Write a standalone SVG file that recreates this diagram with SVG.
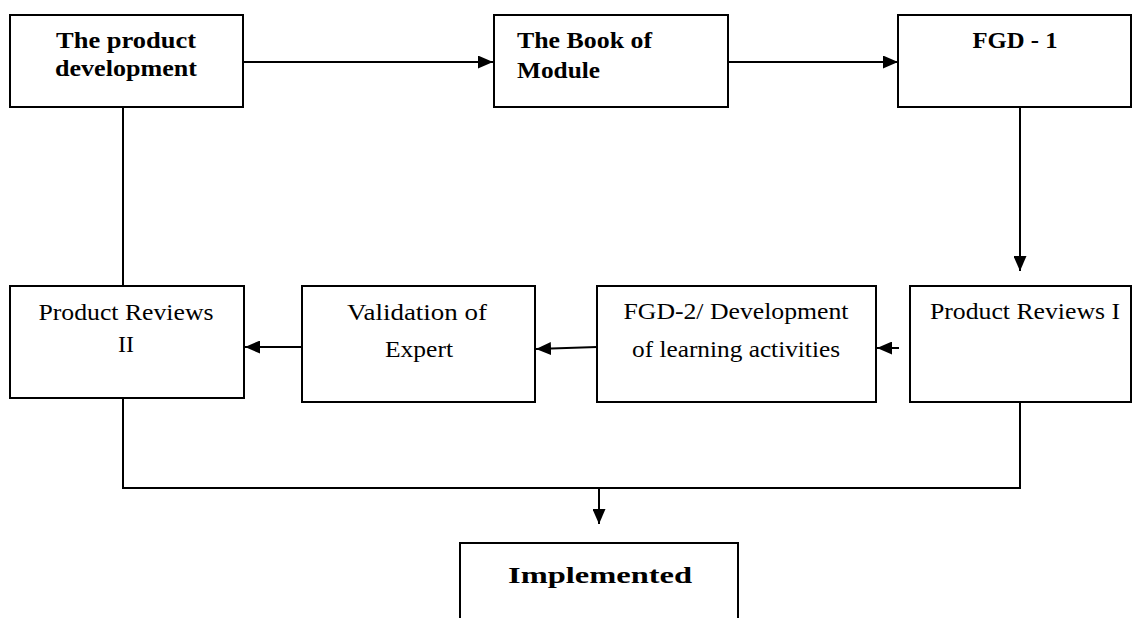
<svg xmlns="http://www.w3.org/2000/svg" width="1132" height="618" viewBox="0 0 1132 618">
<style>
.box{fill:#fff;stroke:#000;stroke-width:2}
.ln{fill:none;stroke:#000;stroke-width:2}
.b{font-family:"Liberation Serif",serif;font-weight:bold;font-size:23px;fill:#000}
.r{font-family:"Liberation Serif",serif;font-size:23px;fill:#000}
</style>
<defs>
<marker id="ah" markerUnits="userSpaceOnUse" markerWidth="15" markerHeight="13" refX="15" refY="6.5" orient="auto">
<path d="M0,0 L15,6.5 L0,13 Z" fill="#000"/>
</marker>
</defs>
<rect width="1132" height="618" fill="#fff"/>
<g id="connectors">
<line class="ln" x1="243" y1="62" x2="493" y2="62" marker-end="url(#ah)"/>
<line class="ln" x1="728" y1="62" x2="898" y2="62" marker-end="url(#ah)"/>
<line class="ln" x1="1020" y1="107" x2="1020" y2="271" marker-end="url(#ah)"/>
<line class="ln" x1="899" y1="348" x2="877" y2="348" marker-end="url(#ah)"/>
<line class="ln" x1="597" y1="347" x2="536" y2="349" marker-end="url(#ah)"/>
<line class="ln" x1="302" y1="347" x2="245" y2="347" marker-end="url(#ah)"/>
<line class="ln" x1="123" y1="107" x2="123" y2="286"/>
<polyline class="ln" points="123,398 123,488 1020,488 1020,402"/>
<line class="ln" x1="599" y1="488" x2="599" y2="524" marker-end="url(#ah)"/>
</g>
<g id="n1">
<rect class="box" x="10" y="15" width="233" height="92"/>
<text class="b" x="126" y="48" text-anchor="middle" textLength="140" lengthAdjust="spacingAndGlyphs">The product</text>
<text class="b" x="126" y="76" text-anchor="middle" textLength="142" lengthAdjust="spacingAndGlyphs">development</text>
</g>
<g id="n2">
<rect class="box" x="494" y="15" width="234" height="92"/>
<text class="b" x="517" y="48" textLength="135" lengthAdjust="spacingAndGlyphs">The Book of</text>
<text class="b" x="517" y="78" textLength="83" lengthAdjust="spacingAndGlyphs">Module</text>
</g>
<g id="n3">
<rect class="box" x="898" y="15" width="233" height="92"/>
<text class="b" x="1015" y="48" text-anchor="middle" textLength="85" lengthAdjust="spacingAndGlyphs">FGD - 1</text>
</g>
<g id="n4">
<rect class="box" x="10" y="286" width="234" height="112"/>
<text class="r" x="126" y="320" text-anchor="middle" textLength="175" lengthAdjust="spacingAndGlyphs">Product Reviews</text>
<text class="r" x="126" y="352" text-anchor="middle" textLength="16" lengthAdjust="spacingAndGlyphs">II</text>
</g>
<g id="n5">
<rect class="box" x="302" y="286" width="233" height="116"/>
<text class="r" x="417" y="320" text-anchor="middle" textLength="140" lengthAdjust="spacingAndGlyphs">Validation of</text>
<text class="r" x="419" y="357" text-anchor="middle" textLength="68" lengthAdjust="spacingAndGlyphs">Expert</text>
</g>
<g id="n6">
<rect class="box" x="597" y="286" width="279" height="116"/>
<text class="r" x="736" y="319" text-anchor="middle" textLength="225" lengthAdjust="spacingAndGlyphs">FGD-2/ Development</text>
<text class="r" x="736" y="357" text-anchor="middle" textLength="208" lengthAdjust="spacingAndGlyphs">of learning activities</text>
</g>
<g id="n7">
<rect class="box" x="910" y="286" width="221" height="116"/>
<text class="r" x="1025" y="319" text-anchor="middle" textLength="190" lengthAdjust="spacingAndGlyphs">Product Reviews I</text>
</g>
<g id="n8">
<rect class="box" x="460" y="543" width="278" height="90"/>
<text class="b" x="600" y="583" text-anchor="middle" font-size="27" textLength="184" lengthAdjust="spacingAndGlyphs">Implemented</text>
</g>
</svg>
